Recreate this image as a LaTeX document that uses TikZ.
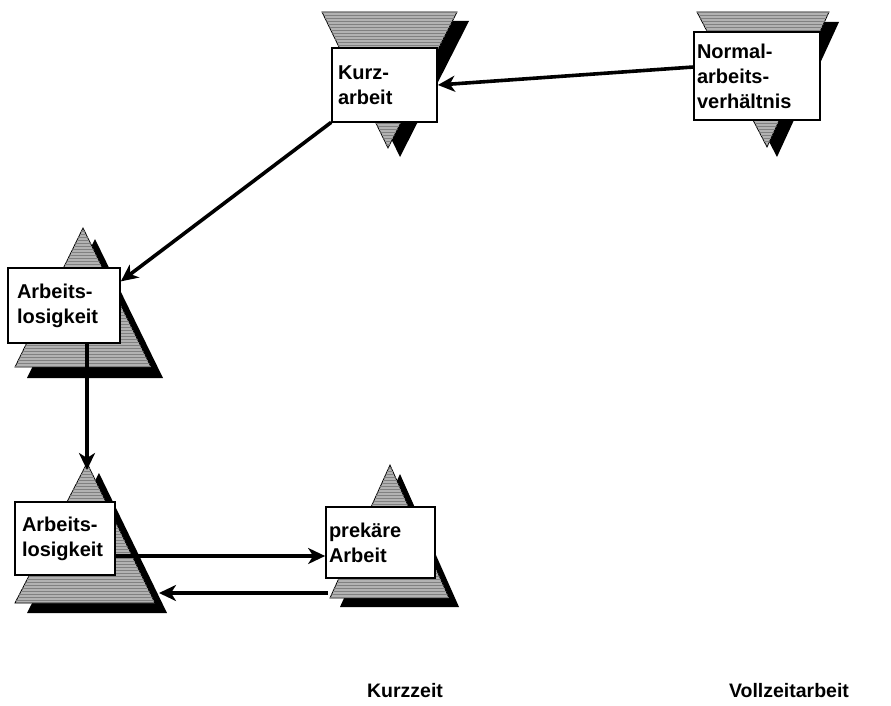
\documentclass[tikz,border=0pt]{standalone}
\usepackage{fontspec}
\setmainfont{Liberation Sans}
\usetikzlibrary{arrows.meta,patterns}
\tikzset{
  shadowtri/.style={fill=black},
  graytri/.style={draw=black, line width=0.8pt, fill=gray!60,
    postaction={pattern=horizontal lines, pattern color=black!50}},
  box/.style={draw=black, line width=1.7pt, fill=white, inner sep=0pt, align=left,
    font=\bfseries\fontsize{20}{25}\selectfont},
  lbl/.style={inner sep=0pt, font=\bfseries\fontsize{19.5}{24}\selectfont},
  arr/.style={line width=3.6pt, -{Stealth[length=17pt,width=16pt,inset=5pt]}}
}
\begin{document}
\begin{tikzpicture}[x=1pt,y=-1pt]
\useasboundingbox (0,0) rectangle (891,706);

% Kurzarbeit (inverted)
\begin{scope}[shift={(12,9)}]\fill[shadowtri] (322,12) -- (457,12) -- (388,148) -- cycle;\end{scope}
\path[graytri] (322,12) -- (457,12) -- (388,148) -- cycle;
\node[box, minimum width=105pt, minimum height=74pt, text width=93pt] (kb) at (384.5,85) {Kurz-\\arbeit};

% Normalarbeitsverhaeltnis (inverted)
\begin{scope}[shift={(10,10)}]\fill[shadowtri] (697,12) -- (829,12) -- (767,147) -- cycle;\end{scope}
\path[graytri] (697,12) -- (829,12) -- (767,147) -- cycle;
\node[box, minimum width=126pt, minimum height=88pt, text width=120pt] (nb) at (757,76) {Normal-\\arbeits-\\verhältnis};

% Arbeitslosigkeit 1
\begin{scope}[shift={(12,11)}]\fill[shadowtri] (83,228) -- (15,367) -- (151,367) -- cycle;\end{scope}
\path[graytri] (83,228) -- (15,367) -- (151,367) -- cycle;
\node[box, minimum width=112pt, minimum height=75pt, text width=94pt] (al1) at (64,305.5) {Arbeits-\\losigkeit};

% Arbeitslosigkeit 2
\begin{scope}[shift={(12,10)}]\fill[shadowtri] (87,463) -- (15,603) -- (155,603) -- cycle;\end{scope}
\path[graytri] (87,463) -- (15,603) -- (155,603) -- cycle;
\node[box, minimum width=100pt, minimum height=73pt, text width=86pt] (al2) at (65,538.5) {Arbeits-\\losigkeit};

% prekaere Arbeit
\begin{scope}[shift={(10,9)}]\fill[shadowtri] (390,465) -- (330,598) -- (449,598) -- cycle;\end{scope}
\path[graytri] (390,465) -- (330,598) -- (449,598) -- cycle;
\node[box, minimum width=109pt, minimum height=71pt, text width=103pt] (pa) at (380.5,542.5) {prekäre\\Arbeit};

% connectors
\draw[arr] (nb.172) -- (kb.east);
\draw[arr] (kb.215) -- (al1.23);
\coordinate (t2top) at (87,470);
\draw[arr] (al1.south -| t2top) -- (t2top);
\coordinate (u) at ([yshift=-17.5pt]al2.east);
\draw[arr] (u) -- (u -| pa.west);
\coordinate (p3) at (328,593);
\coordinate (p2) at (159,593);
\draw[arr] (p3) -- (p2);

% labels
\node[lbl] (kz) at (405,691) {Kurzzeit};
\node[lbl] (vz) at (789,691) {Vollzeitarbeit};
\end{tikzpicture}
\end{document}
